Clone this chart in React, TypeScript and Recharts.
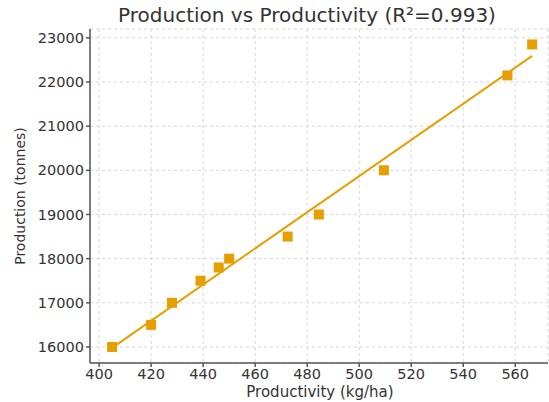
import { ScatterChart, Scatter, XAxis, YAxis, CartesianGrid } from 'recharts';

const productivity = [405, 420, 428, 439, 446, 450, 472.5, 484.5, 509.5, 557, 566.5];
const production = [16000, 16500, 17000, 17500, 17800, 18000, 18500, 19000, 20000, 22150, 22850];

// Fitted trend line end points (as drawn in the reference)
const trendX = [405, 566.5];
const trendY = [15980, 22590];

const xTicks = [400, 420, 440, 460, 480, 500, 520, 540, 560];
const yTicks = [16000, 17000, 18000, 19000, 20000, 21000, 22000, 23000];

const ORANGE = '#E69F00';
const FONT = '"DejaVu Sans", sans-serif';

const points = productivity.map((x, i) => ({ x, y: production[i] }));
const trend = trendX.map((x, i) => ({ x, y: trendY[i] }));

const SquareMark = (props: any) => {
  const { cx, cy } = props;
  if (cx == null || cy == null) return <g />;
  return <rect x={cx - 5} y={cy - 5} width={10} height={10} fill={ORANGE} />;
};

export default function App() {
  return (
    <div style={{ position: 'absolute', left: 0, top: 0, width: 549, height: 402, background: '#fff' }}>
      <ScatterChart
        width={549}
        height={402}
        margin={{ top: 29, right: 1, bottom: 0, left: 0 }}
        style={{ fontFamily: FONT }}
      >
        <text x={307} y={22} textAnchor="middle" fontSize={20} fill="#333" fontFamily={FONT}>
          Production vs Productivity (R²=0.993)
        </text>
        <text x={320} y={397} textAnchor="middle" fontSize={15} fill="#333" fontFamily={FONT}>
          Productivity (kg/ha)
        </text>
        <text
          x={25}
          y={196}
          textAnchor="middle"
          fontSize={14}
          fill="#333"
          fontFamily={FONT}
          transform="rotate(-90 25 196)"
        >
          Production (tonnes)
        </text>
        <CartesianGrid stroke="#d6d6d6" strokeDasharray="3 3" />
        <XAxis
          type="number"
          dataKey="x"
          domain={[396.5, 572.6]}
          ticks={xTicks}
          allowDataOverflow
          height={39}
          stroke="#555"
          strokeWidth={1.5}
          tickSize={4}
          tick={{ fill: '#333', fontSize: 14.5, fontFamily: FONT }}
        />
        <YAxis
          type="number"
          dataKey="y"
          domain={[15637, 23200]}
          ticks={yTicks}
          allowDataOverflow
          width={90}
          stroke="#555"
          strokeWidth={1.5}
          tickSize={4}
          tick={{ fill: '#333', fontSize: 14.5, fontFamily: FONT }}
        />
        <Scatter
          data={trend}
          line={{ stroke: ORANGE, strokeWidth: 2 }}
          shape={() => <g />}
          isAnimationActive={false}
        />
        <Scatter data={points} shape={SquareMark} isAnimationActive={false} />
      </ScatterChart>
    </div>
  );
}
